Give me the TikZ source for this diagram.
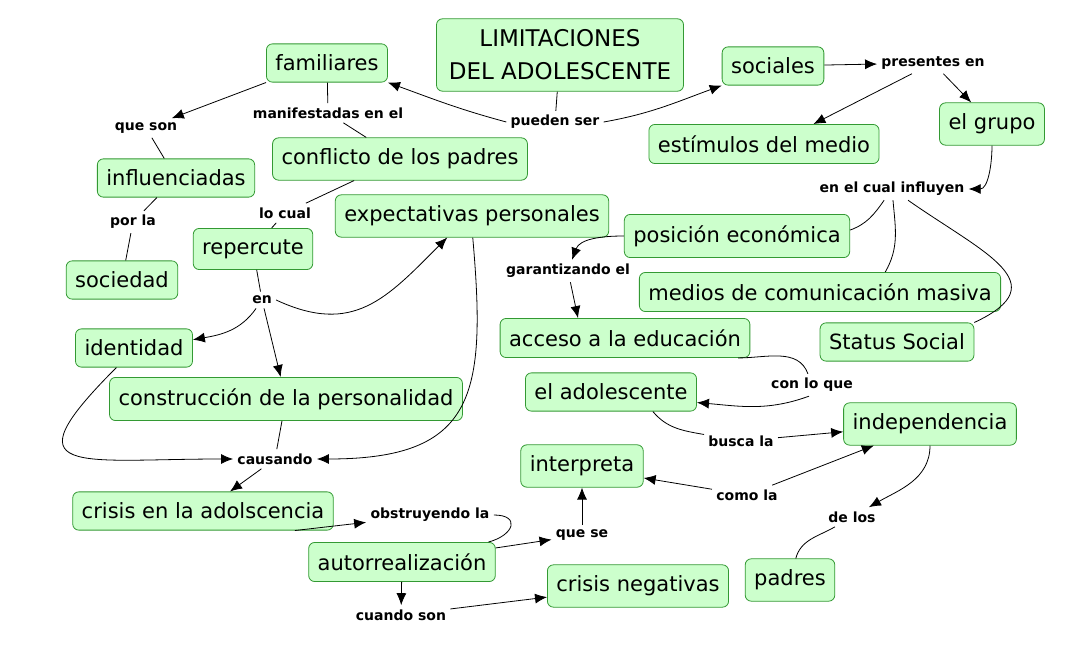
\documentclass[tikz,border=0pt]{standalone}
\usepackage{fontspec}
\setmainfont{DejaVu Sans}
\usepackage{xcolor}
\usepackage{tikz}
\usetikzlibrary{arrows.meta}

\definecolor{conceptfill}{RGB}{204,255,204}
\definecolor{conceptline}{RGB}{51,153,51}

\begin{document}
\begin{tikzpicture}[x=1pt, y=1pt, line width=0.8pt, >={Latex[length=12pt, width=10pt]},
        concept/.style={draw=conceptline, fill=conceptfill, rounded corners=6pt, inner xsep=9pt, inner ysep=11pt, font=\fontsize{21}{26}\selectfont},
        link/.style={inner sep=4pt, font=\bfseries\fontsize{14}{16}\selectfont}]
        \useasboundingbox (0,0) rectangle (1077,-652);

        \node[concept, align=center, minimum width=247pt, minimum height=71pt, font=\fontsize{23}{33}\selectfont] (lim) at (560,-55) {LIMITACIONES\\DEL ADOLESCENTE};
        \node[concept] (fam)  at (327,-63)  {familiares};
        \node[concept] (soc)  at (773,-66)  {sociales};
        \node[concept] (est)  at (764,-144) {estímulos del medio};
        \node[concept] (gru)  at (992,-124) {el grupo};
        \node[concept] (con)  at (400,-159) {conflicto de los padres};
        \node[concept] (inf)  at (176,-178) {influenciadas};
        \node[concept] (soci) at (122,-280) {sociedad};
        \node[concept] (rep)  at (253,-249) {repercute};
        \node[concept] (exp)  at (472,-216) {expectativas personales};
        \node[concept] (pos)  at (737,-236) {posición económica};
        \node[concept] (med)  at (820,-292) {medios de comunicación masiva};
        \node[concept] (acc)  at (625,-338) {acceso a la educación};
        \node[concept] (sta)  at (897,-342) {Status Social};
        \node[concept] (ide)  at (134,-348) {identidad};
        \node[concept] (cons) at (286,-399) {construcción de la personalidad};
        \node[concept] (ado)  at (611,-392) {el adolescente};
        \node[concept] (ind)  at (930,-424) {independencia};
        \node[concept] (int)  at (582,-466) {interpreta};
        \node[concept] (cri)  at (203,-511) {crisis en la adolscencia};
        \node[concept] (aut)  at (402,-562) {autorrealización};
        \node[concept] (cn)   at (638,-586) {crisis negativas};
        \node[concept] (pad)  at (790,-580) {padres};

        \node[link] (pu)  at (555,-122) {pueden ser};
        \node[link] (man) at (328,-113) {manifestadas en el};
        \node[link] (qs)  at (146,-128) {que son};
        \node[link] (pe)  at (933,-63)  {presentes en};
        \node[link] (ecf) at (892,-189) {en el cual influyen};
        \node[link] (lc)  at (285,-213) {lo cual};
        \node[link] (pl)  at (133,-222) {por la};
        \node[link] (en)  at (262,-300) {en};
        \node[link] (gar) at (568,-271) {garantizando el};
        \node[link] (clq) at (812,-385) {con lo que};
        \node[link] (bus) at (741,-441) {busca la};
        \node[link] (cau) at (275,-459) {causando};
        \node[link] (cml) at (747,-495) {como la};
        \node[link] (dl)  at (852,-517) {de los};
        \node[link] (obs) at (430,-515) {obstruyendo la};
        \node[link] (qse) at (582,-535) {que se};
        \node[link] (cs)  at (401,-615) {cuando son};

        \path
        (lim) edge (pu)
        (fam) edge (man)
        (man) edge (con)
        (qs) edge (inf)
        (inf) edge (pl)
        (pl) edge (soci)
        (con) edge (lc)
        (lc) edge (rep)
        (rep) edge (en)
        (cons) edge (cau)
        (obs.east) edge [out=0, in=15, looseness=2.5] (aut.13)
        (ecf) edge [out=-125, in=20] (pos.3)
        (ecf) edge [out=-85, in=60] (med.17)
        (ecf) edge [out=-35, in=25, looseness=1.7] (sta.north east)
        (acc.-10) edge [out=0, in=110] (clq)
        (ado.-25) edge [out=-50, in=170] (bus)
        (dl) edge [out=-150, in=75] (pad);

        \path[->]
        (pu.west) edge [out=165, in=-20] (fam.south east)
        (pu.east) edge [out=10, in=200] (soc.south west)
        (fam.south west) edge (qs)
        (en) edge [out=-125, in=10] (ide.8)
        (en) edge (cons)
        (en.east) edge [out=-25, in=-135, looseness=1.2] (exp.221)
        (ide.-132) edge [out=-135, in=180, looseness=2.7] (cau)
        (exp.-88) edge [out=-85, in=0, looseness=1.5] (cau)
        (cau) edge (cri)
        (cri.-12) edge (obs)
        (aut) edge (qse)
        (qse) edge (int)
        (aut) edge (cs)
        (cs) edge (cn)
        (soc) edge (pe)
        (pe) edge (est.22)
        (pe) edge (gru)
        (gru) edge [out=-90, in=0] (ecf)
        (pos.west) edge [out=180, in=70] (gar)
        (gar) edge (acc.157)
        (clq.-105) edge [out=-160, in=-5] (ado.-7)
        (bus) edge (ind)
        (cml) edge (int.-11)
        (cml) edge (ind.201)
        (ind) edge [out=-90, in=30] (dl);

    \end{tikzpicture}
\end{document}
